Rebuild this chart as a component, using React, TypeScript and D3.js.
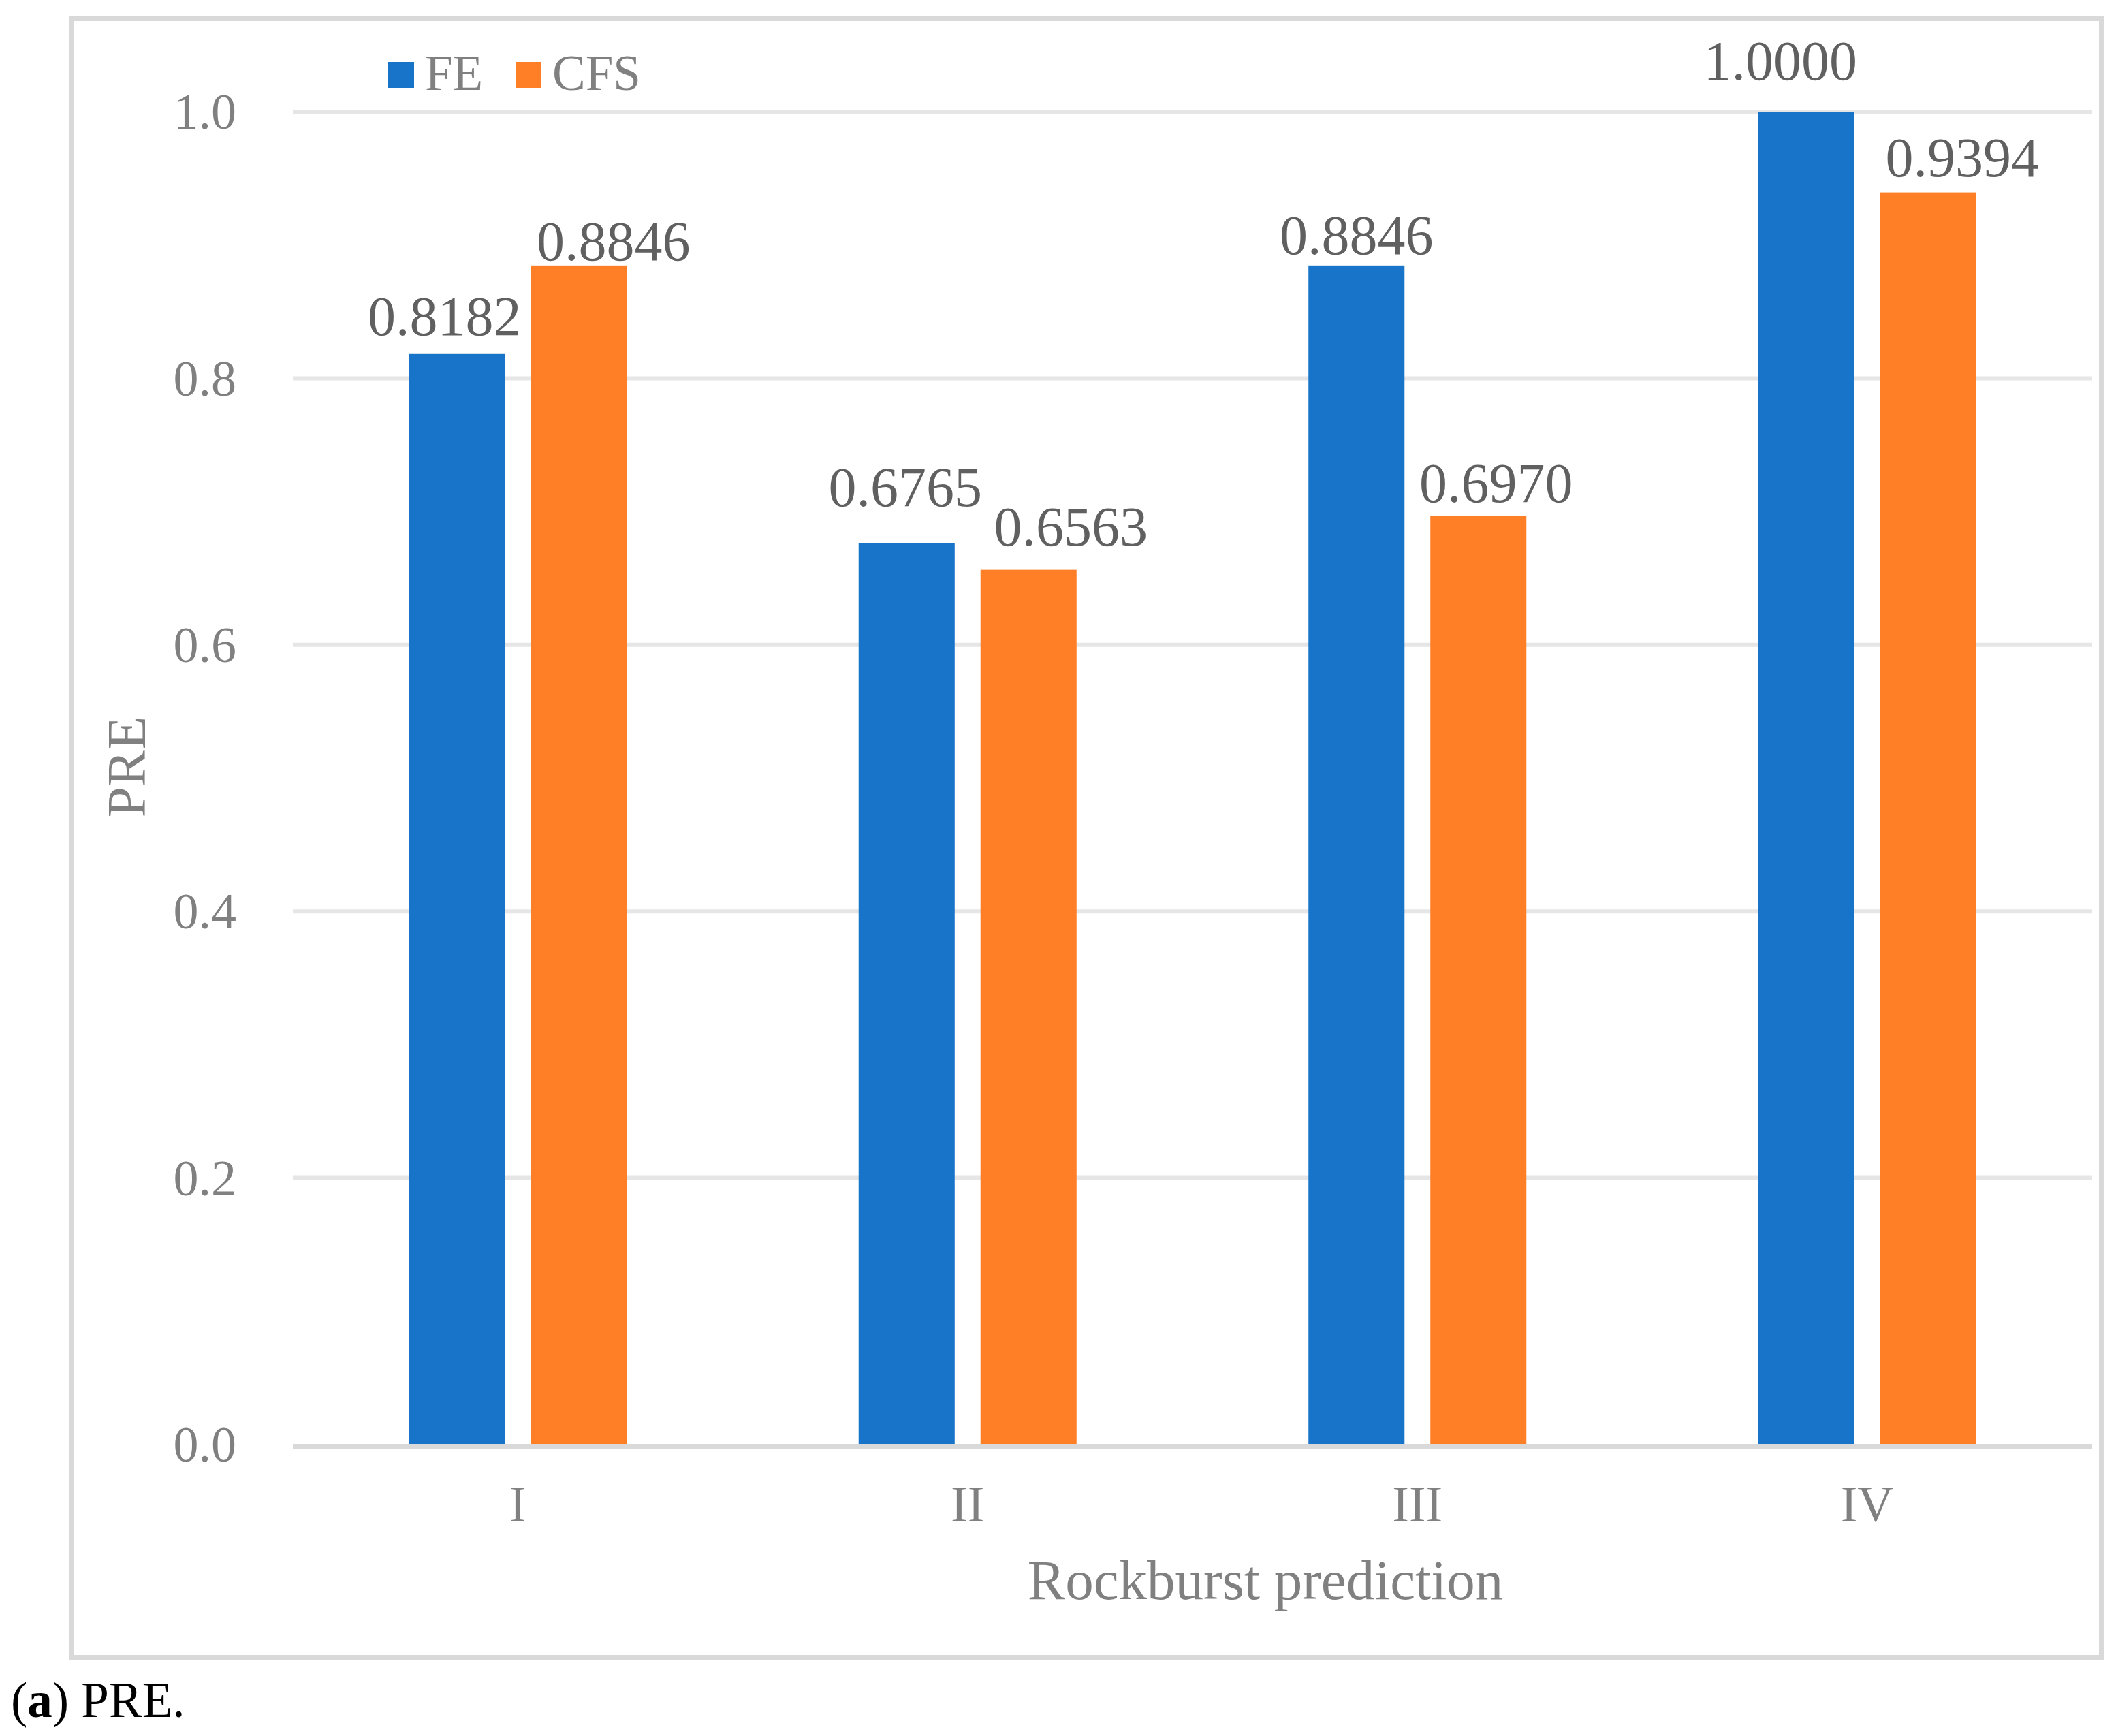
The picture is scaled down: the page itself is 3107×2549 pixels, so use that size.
import React, { useEffect, useRef } from 'react';
import * as d3 from 'd3';

const categories = ['I', 'II', 'III', 'IV'];
const seriesNames = ['FE', 'CFS'];
const feValues = [0.8182, 0.6765, 0.8846, 1.0];
const cfsValues = [0.8846, 0.6563, 0.697, 0.9394];
const yTicks = [0, 0.2, 0.4, 0.6, 0.8, 1.0];

// hand-placed data label offsets (dx from bar centre, gap above bar top)
const feLabelNudge = [
  [-18, 28],
  [-2, 54],
  [0, 17],
  [-38, 47],
];
const cfsLabelNudge = [
  [51, 8],
  [62, 36],
  [26, 20],
  [50, 24],
];

const colors: Record<string, string> = { FE: '#1874c9', CFS: '#ff7f27' };

const WIDTH = 3107;
const HEIGHT = 2549;
const FONT = '"Liberation Serif", "Times New Roman", serif';

export default function App() {
  const svgRef = useRef<SVGSVGElement>(null);

  useEffect(() => {
    if (!svgRef.current) return;
    const svg = d3.select(svgRef.current);
    svg.selectAll('*').remove();

    const plot = { left: 430, right: 3072, top: 164, bottom: 2121 };

    svg
      .append('rect')
      .attr('width', WIDTH)
      .attr('height', HEIGHT)
      .attr('fill', '#ffffff');

    // chart area border
    svg
      .append('rect')
      .attr('x', 104.5)
      .attr('y', 27.5)
      .attr('width', 2981)
      .attr('height', 2406)
      .attr('fill', 'none')
      .attr('stroke', '#d9d9d9')
      .attr('stroke-width', 7);

    const x0 = d3
      .scaleBand<string>()
      .domain(categories)
      .range([plot.left, plot.right])
      .paddingInner(0.5155)
      .paddingOuter(0.25775);

    const x1 = d3
      .scaleBand<string>()
      .domain(seriesNames)
      .range([0, x0.bandwidth()])
      .paddingInner(0.212);

    const y = d3.scaleLinear().domain([0, 1]).range([plot.bottom, plot.top]);

    // gridlines
    svg
      .append('g')
      .selectAll('line')
      .data(yTicks.filter(t => t > 0))
      .enter()
      .append('line')
      .attr('x1', plot.left)
      .attr('x2', plot.right)
      .attr('y1', d => y(d))
      .attr('y2', d => y(d))
      .attr('stroke', '#e6e6e6')
      .attr('stroke-width', 6);

    // y tick labels
    svg
      .append('g')
      .selectAll('text')
      .data(yTicks)
      .enter()
      .append('text')
      .attr('x', 347)
      .attr('y', d => y(d))
      .attr('dy', '0.34em')
      .attr('text-anchor', 'end')
      .attr('fill', '#808080')
      .attr('font-size', 74)
      .attr('font-family', FONT)
      .text(d => d3.format('.1f')(d));

    // bars
    const seriesData = [
      { name: 'FE', values: feValues, nudge: feLabelNudge },
      { name: 'CFS', values: cfsValues, nudge: cfsLabelNudge },
    ];

    seriesData.forEach(s => {
      const g = svg.append('g');
      g.selectAll('rect')
        .data(s.values)
        .enter()
        .append('rect')
        .attr('x', (_, i) => x0(categories[i])! + x1(s.name)!)
        .attr('y', d => y(d))
        .attr('width', x1.bandwidth())
        .attr('height', d => y(0) - y(d))
        .attr('fill', colors[s.name]);

      g.selectAll('text')
        .data(s.values)
        .enter()
        .append('text')
        .attr(
          'x',
          (_, i) => x0(categories[i])! + x1(s.name)! + x1.bandwidth() / 2 + s.nudge[i][0]
        )
        .attr('y', (d, i) => y(d) - s.nudge[i][1])
        .attr('text-anchor', 'middle')
        .attr('fill', '#606060')
        .attr('font-size', 82)
        .attr('font-family', FONT)
        .text(d => d3.format('.4f')(d));
    });

    // x axis line
    svg
      .append('line')
      .attr('x1', plot.left)
      .attr('x2', plot.right)
      .attr('y1', y(0) + 2.5)
      .attr('y2', y(0) + 2.5)
      .attr('stroke', '#d9d9d9')
      .attr('stroke-width', 7);

    // category labels
    svg
      .append('g')
      .selectAll('text')
      .data(categories)
      .enter()
      .append('text')
      .attr('x', d => x0(d)! + x0.bandwidth() / 2)
      .attr('y', 2234)
      .attr('text-anchor', 'middle')
      .attr('fill', '#808080')
      .attr('font-size', 74)
      .attr('font-family', FONT)
      .text(d => d);

    // axis titles
    svg
      .append('text')
      .attr('x', 1858)
      .attr('y', 2348)
      .attr('text-anchor', 'middle')
      .attr('fill', '#808080')
      .attr('font-size', 83)
      .attr('font-family', FONT)
      .text('Rockburst prediction');

    svg
      .append('text')
      .attr('transform', 'translate(213, 1126) rotate(-90)')
      .attr('text-anchor', 'middle')
      .attr('fill', '#808080')
      .attr('font-size', 81)
      .attr('font-family', FONT)
      .text('PRE');

    // legend
    const legendX = [570, 757];
    const legend = svg
      .append('g')
      .selectAll('g')
      .data(seriesNames)
      .enter()
      .append('g')
      .attr('transform', (_, i) => `translate(${legendX[i]}, 91)`);

    legend
      .append('rect')
      .attr('width', 38)
      .attr('height', 38)
      .attr('fill', d => colors[d]);

    legend
      .append('text')
      .attr('x', 54)
      .attr('y', 41)
      .attr('fill', '#808080')
      .attr('font-size', 73)
      .attr('font-family', FONT)
      .text(d => d);

    // caption
    const caption = svg
      .append('text')
      .attr('x', 16)
      .attr('y', 2521)
      .attr('fill', '#000000')
      .attr('font-size', 73)
      .attr('font-family', FONT);
    caption.append('tspan').text('(');
    caption.append('tspan').attr('font-weight', 'bold').text('a');
    caption.append('tspan').text(') PRE.');
  }, []);

  return (
    <svg
      ref={svgRef}
      width={WIDTH}
      height={HEIGHT}
      style={{ position: 'absolute', left: 0, top: 0, display: 'block' }}
    />
  );
}
